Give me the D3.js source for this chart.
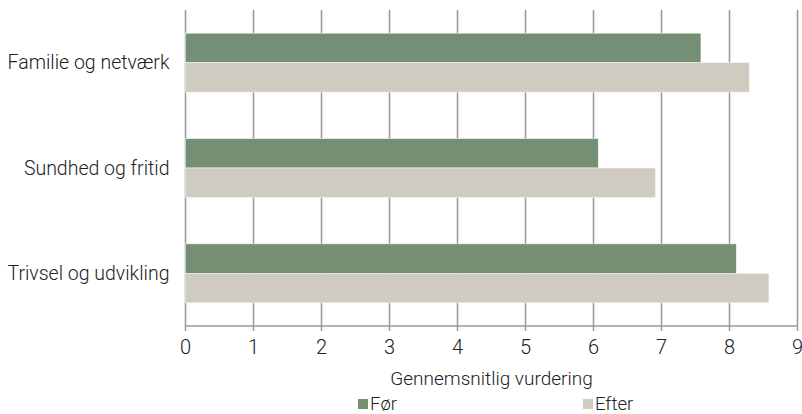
<!DOCTYPE html>
<html>
<head>
<meta charset="utf-8">
<script src="https://cdn.jsdelivr.net/npm/d3@7"></script>
<style>
  body { margin: 0; background: #fff; }
  svg text { font-family: Roboto, "Liberation Sans", sans-serif; font-weight: 300; fill: #222; }
</style>
</head>
<body>
<svg id="chart" width="802" height="414"></svg>
<script>
var categories = ["Familie og netværk", "Sundhed og fritid", "Trivsel og udvikling"];
var series = ["Før", "Efter"];
var foer = [7.58, 6.07, 8.10];
var efter = [8.29, 6.91, 8.58];
var ticks = [0, 1, 2, 3, 4, 5, 6, 7, 8, 9];
var colors = ["#748f74", "#cfcbc0"];

var svg = d3.select("#chart"),
    margin = {top: 10, right: 5, bottom: 88, left: 185.5};

var data = categories.map(function(c, i) { return {name: c, values: [foer[i], efter[i]]}; });

var x = d3.scaleLinear().domain([0, 9]).range([0, 612]);
var y0 = d3.scaleBand().domain(categories).range([0, 316]).paddingInner(0.44).paddingOuter(0.22);
var y1 = d3.scaleBand().domain(series).range([0, y0.bandwidth()]);

var g = svg.append("g").attr("transform", "translate(" + margin.left + "," + margin.top + ")");

// gridlines
g.append("g").selectAll("line")
  .data(ticks)
  .enter().append("line")
    .attr("x1", x).attr("x2", x)
    .attr("y1", 0).attr("y2", 321)
    .attr("stroke", "#999")
    .attr("stroke-width", 1.5);

// bars
var groups = g.append("g").selectAll("g")
  .data(data)
  .enter().append("g")
    .attr("transform", function(d) { return "translate(0," + y0(d.name) + ")"; });

groups.selectAll("rect")
  .data(function(d) { return d.values.map(function(v, i) { return {key: series[i], value: v, i: i}; }); })
  .enter().append("rect")
    .attr("x", 0)
    .attr("y", function(d) { return y1(d.key); })
    .attr("height", y1.bandwidth())
    .attr("width", function(d) { return x(d.value); })
    .attr("fill", function(d) { return colors[d.i]; })
    .attr("stroke", "#f4f4f0")
    .attr("stroke-width", 0.6);

// x axis line
g.append("line")
  .attr("x1", 0).attr("x2", x(9))
  .attr("y1", 316).attr("y2", 316)
  .attr("stroke", "#999")
  .attr("stroke-width", 1.5);

// tick labels
g.append("g").selectAll("text")
  .data(ticks)
  .enter().append("text")
    .attr("x", x)
    .attr("y", 344)
    .attr("text-anchor", "middle")
    .attr("font-size", "20px")
    .text(function(d) { return d; });

// category labels
g.append("g").selectAll("text")
  .data(categories)
  .enter().append("text")
    .attr("x", -16)
    .attr("y", function(d) { return y0(d) + y0.bandwidth() / 2; })
    .attr("dy", "0.35em")
    .attr("text-anchor", "end")
    .attr("font-size", "19.5px")
    .text(function(d) { return d; });

// axis title
g.append("text")
  .attr("x", x(9) / 2)
  .attr("y", 375)
  .attr("text-anchor", "middle")
  .attr("font-size", "19px")
  .text("Gennemsnitlig vurdering");

// legend
var legendX = [358, 583];
var legend = svg.append("g").selectAll("g")
  .data(series)
  .enter().append("g")
    .attr("transform", function(d, i) { return "translate(" + legendX[i] + ",399)"; });

legend.append("rect")
  .attr("width", 10).attr("height", 10)
  .attr("fill", function(d, i) { return colors[i]; });

legend.append("text")
  .attr("x", 12)
  .attr("y", 11)
  .attr("font-size", "18.5px")
  .text(function(d) { return d; });
</script>
</body>
</html>
